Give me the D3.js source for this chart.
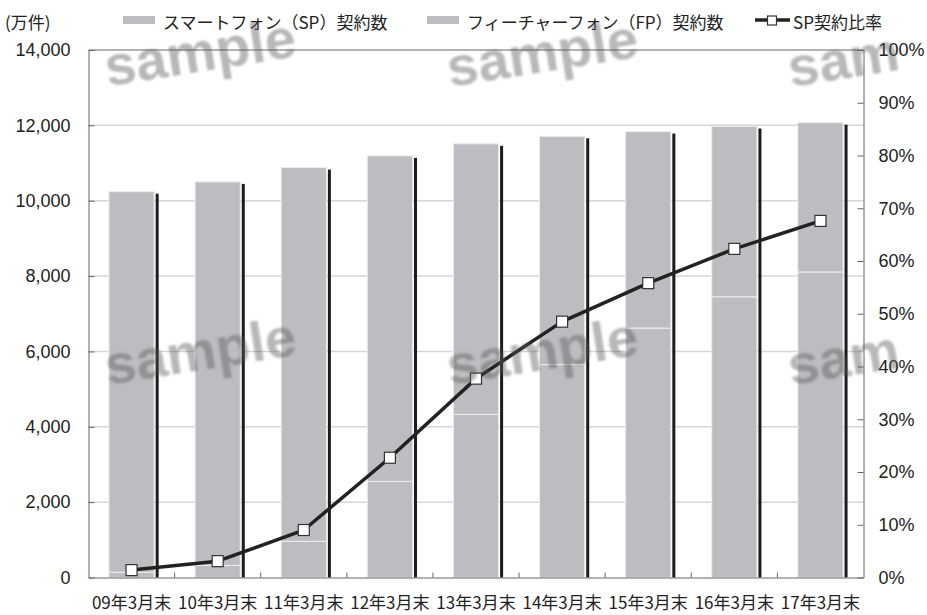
<!DOCTYPE html>
<html>
<head>
<meta charset="utf-8">
<script src="https://cdn.jsdelivr.net/npm/d3@7"></script>
<style>
  html, body { margin: 0; padding: 0; background: #fff; }
  svg { display: block; }
</style>
</head>
<body>
<svg id="chart" width="927" height="615"></svg>
<script>
// 携帯電話契約数の推移（万件）と SP 契約比率（%）
const categories = ["09年3月末", "10年3月末", "11年3月末", "12年3月末", "13年3月末",
                    "14年3月末", "15年3月末", "16年3月末", "17年3月末"];
const spValues = [140, 320, 960, 2550, 4330, 5650, 6620, 7450, 8110];
const fpValues = [10100, 10180, 9920, 8640, 7180, 6060, 5215, 4520, 3960];
const spRatio = [1.4, 3.1, 9.0, 22.7, 37.7, 48.5, 55.8, 62.3, 67.6];
const leftTicks = [0, 2000, 4000, 6000, 8000, 10000, 12000, 14000];
const rightTicks = [0, 10, 20, 30, 40, 50, 60, 70, 80, 90, 100];
const legendLabels = ["スマートフォン（SP）契約数", "フィーチャーフォン（FP）契約数", "SP契約比率"];
const unitLabel = "(万件)";

const W = 927, H = 615;
const margin = { top: 50, right: 63.5, bottom: 37.5, left: 88.5 };
const plotW = W - margin.left - margin.right;
const plotH = H - margin.top - margin.bottom;

const jpFont = "'Noto Sans CJK JP', 'Noto Sans', sans-serif";
const numFont = "'Liberation Sans', Arial, sans-serif";
const barColor = "#bcbdc0";

const svg = d3.select("#chart");
const g = svg.append("g").attr("transform", `translate(${margin.left},${margin.top})`);

const x = d3.scaleBand().domain(categories).range([0, plotW]).padding(0);
const y = d3.scaleLinear().domain([0, 14000]).range([plotH, 0]);
const yR = d3.scaleLinear().domain([0, 100]).range([plotH, 0]);
const barW = x.step() * 0.525;

// horizontal gridlines
g.append("g").selectAll("line")
  .data(leftTicks.filter(t => t > 0 && t < 14000))
  .join("line")
  .attr("x1", 0).attr("x2", plotW)
  .attr("y1", d => y(d)).attr("y2", d => y(d))
  .attr("stroke", "#d6d6d6").attr("stroke-width", 1.5);

// stacked bars
const rows = categories.map((c, i) => ({ cat: c, sp: spValues[i], fp: fpValues[i] }));
const stack = d3.stack().keys(["sp", "fp"])(rows);

// dark edge on the right side of each bar
g.append("g").selectAll("rect")
  .data(rows)
  .join("rect")
  .attr("x", d => x(d.cat) + x.bandwidth() / 2 + barW / 2 + 1.5)
  .attr("width", 3)
  .attr("y", d => y(d.sp + d.fp) + 2)
  .attr("height", d => plotH - y(d.sp + d.fp) - 2)
  .attr("fill", "#1c1c1c");

g.append("g").selectAll("g")
  .data(stack)
  .join("g")
  .selectAll("rect")
  .data(s => s)
  .join("rect")
  .attr("x", d => x(d.data.cat) + x.bandwidth() / 2 - barW / 2)
  .attr("width", barW)
  .attr("y", d => y(d[1]))
  .attr("height", d => y(d[0]) - y(d[1]))
  .attr("fill", barColor)
  .attr("stroke", "#ececec")
  .attr("stroke-width", 1);

// plot frame: top line
g.append("line").attr("x1", 0).attr("x2", plotW).attr("y1", 0).attr("y2", 0)
  .attr("stroke", "#666").attr("stroke-width", 1);

// left axis
const axL = g.append("g")
  .call(d3.axisLeft(y).tickValues(leftTicks).tickFormat(d3.format(",")).tickSizeInner(-6).tickSizeOuter(0).tickPadding(18));
// right axis
const axR = g.append("g").attr("transform", `translate(${plotW},0)`)
  .call(d3.axisRight(yR).tickValues(rightTicks).tickFormat(d => d + "%").tickSizeInner(-6).tickSizeOuter(0).tickPadding(15));
// bottom axis
const axB = g.append("g").attr("transform", `translate(0,${plotH})`)
  .call(d3.axisBottom(x).tickSize(0).tickPadding(19));

[axL, axR, axB].forEach(a => {
  a.select(".domain").attr("stroke", "#666").attr("stroke-width", 1);
  a.selectAll(".tick line").attr("stroke", "#666").attr("stroke-width", 1);
  a.selectAll("text").attr("fill", "#222");
});
axL.selectAll("text").attr("font-family", numFont).attr("font-size", 18);
axR.selectAll("text").attr("font-family", numFont).attr("font-size", 18);
axB.selectAll("text").attr("font-family", jpFont).attr("font-size", 17);

// small ticks between categories on the bottom axis
g.append("g").selectAll("line")
  .data(categories.slice(1))
  .join("line")
  .attr("x1", d => x(d)).attr("x2", d => x(d))
  .attr("y1", plotH).attr("y2", plotH - 5)
  .attr("stroke", "#666").attr("stroke-width", 1);

// SP ratio line
const line = d3.line()
  .x((d, i) => x(categories[i]) + x.bandwidth() / 2)
  .y(d => yR(d));
g.append("path").datum(spRatio)
  .attr("d", line)
  .attr("fill", "none")
  .attr("stroke", "#222")
  .attr("stroke-width", 3.5)
  .attr("stroke-linejoin", "round");
const mk = 11;
g.append("g").selectAll("rect")
  .data(spRatio)
  .join("rect")
  .attr("x", (d, i) => x(categories[i]) + x.bandwidth() / 2 - mk / 2)
  .attr("y", d => yR(d) - mk / 2)
  .attr("width", mk).attr("height", mk)
  .attr("fill", "#fff")
  .attr("stroke", "#333")
  .attr("stroke-width", 1.2);

// unit label and legend
svg.append("text").attr("x", 5).attr("y", 21).attr("dominant-baseline", "central")
  .attr("font-family", jpFont).attr("font-size", 17).attr("fill", "#222").text(unitLabel);

const legend = svg.append("g");
const swatchX = [123, 427];
swatchX.forEach((sx, i) => {
  legend.append("rect").attr("x", sx).attr("y", 16).attr("width", 32).attr("height", 8)
    .attr("fill", barColor);
  legend.append("text").attr("x", sx + 40).attr("y", 21).attr("dominant-baseline", "central")
    .attr("font-family", jpFont).attr("font-size", 17).attr("fill", "#222").text(legendLabels[i]);
});
legend.append("line").attr("x1", 755).attr("x2", 790).attr("y1", 20).attr("y2", 20)
  .attr("stroke", "#222").attr("stroke-width", 3.5);
legend.append("rect").attr("x", 767.5).attr("y", 16).attr("width", 9).attr("height", 9)
  .attr("fill", "#fff").attr("stroke", "#333").attr("stroke-width", 1.2);
legend.append("text").attr("x", 793).attr("y", 21).attr("dominant-baseline", "central")
  .attr("font-family", jpFont).attr("font-size", 17).attr("fill", "#222").text(legendLabels[2]);

// "sample" overlay text; the right-hand column runs off the page, so only "sam" is set there
const defs = svg.append("defs");
defs.append("filter").attr("id", "soft").append("feGaussianBlur").attr("stdDeviation", 1.1);
const markCols = [200, 542, 884];
const markRows = [52, 350];
const wm = svg.append("g").attr("filter", "url(#soft)");
markRows.forEach(ry => markCols.forEach((cx, ci) => {
  const last = ci === markCols.length - 1;
  wm.append("text")
    .attr("transform", `translate(${cx},${ry}) rotate(-9)`)
    .attr("x", last ? -97.5 : 0)
    .attr("text-anchor", last ? "start" : "middle").attr("dominant-baseline", "central")
    .attr("font-family", numFont).attr("font-weight", "bold").attr("font-size", 56)
    .attr("fill", "#555").attr("fill-opacity", 0.42)
    .text(last ? "sam" : "sample");
}));
</script>
</body>
</html>
